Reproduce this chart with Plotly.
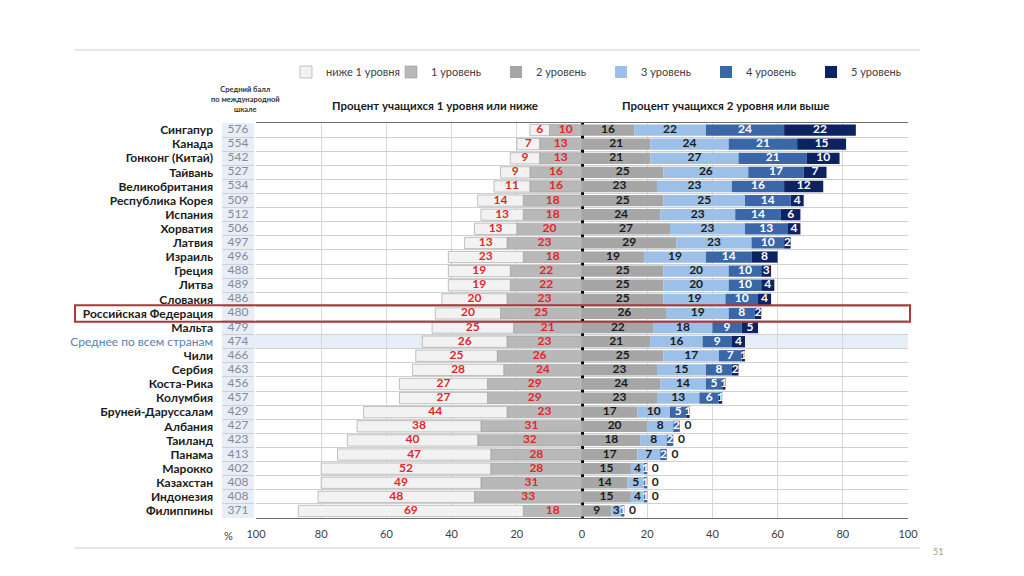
import plotly.graph_objects as go

countries = ["Сингапур", "Канада", "Гонконг (Китай)", "Тайвань", "Великобритания",
             "Республика Корея", "Испания", "Хорватия", "Латвия", "Израиль", "Греция",
             "Литва", "Словакия", "Российская Федерация", "Мальта", "Среднее по всем странам",
             "Чили", "Сербия", "Коста-Рика", "Колумбия", "Бруней-Даруссалам", "Албания",
             "Таиланд", "Панама", "Марокко", "Казахстан", "Индонезия", "Филиппины"]
scores = [576, 554, 542, 527, 534, 509, 512, 506, 497, 496, 488, 489, 486, 480, 479, 474,
          466, 463, 456, 457, 429, 427, 423, 413, 402, 408, 408, 371]
below1 = [6, 7, 9, 9, 11, 14, 13, 13, 13, 23, 19, 19, 20, 20, 25, 26, 25, 28, 27, 27, 44, 38, 40, 47, 52, 49, 48, 69]
lvl1 = [10, 13, 13, 16, 16, 18, 18, 20, 23, 18, 22, 22, 23, 25, 21, 23, 26, 24, 29, 29, 23, 31, 32, 28, 28, 31, 33, 18]
lvl2 = [16, 21, 21, 25, 23, 25, 24, 27, 29, 19, 25, 25, 25, 26, 22, 21, 25, 23, 24, 23, 17, 20, 18, 17, 15, 14, 15, 9]
lvl3 = [22, 24, 27, 26, 23, 25, 23, 23, 23, 19, 20, 20, 19, 19, 18, 16, 17, 15, 14, 13, 10, 8, 8, 7, 4, 5, 4, 3]
lvl4 = [24, 21, 21, 17, 16, 14, 14, 13, 10, 14, 10, 10, 10, 8, 9, 9, 7, 8, 5, 6, 5, 2, 2, 2, 1, 1, 1, 1]
lvl5 = [22, 15, 10, 7, 12, 4, 6, 4, 2, 8, 3, 4, 4, 2, 5, 4, 1, 2, 1, 1, 1, 0, 0, 0, 0, 0, 0, 0]

legend_names = ["ниже 1 уровня", "1 уровень", "2 уровень", "3 уровень", "4 уровень", "5 уровень"]
colors = ["#f2f2f2", "#b8b8b8", "#a6a6a6", "#9cc0e8", "#3a67a8", "#0d2261"]
x_ticks = [-100, -80, -60, -40, -20, 0, 20, 40, 60, 80, 100]

highlight = "Российская Федерация"
average = "Среднее по всем странам"

# page offset (browser body margin)
OFF = 8
W, H = 1024, 576
ML = 60 - OFF
PLOT_L, PLOT_R, PLOT_T, PLOT_B = 256 - OFF, 908 - OFF, 123 - OFF, 518 - OFF
MR = W - PLOT_R
MT = PLOT_T
MB = H - PLOT_B
PW = W - ML - MR
PH = H - MT - MB
X_DOM0 = (PLOT_L - ML) / PW


def px_x(px):
    return (px - OFF - ML) / PW


def px_y(py):
    return 1 - (py - OFF - MT) / PH


FONT = "Lato"
fig = go.Figure()

# Left side (negative): level 1 first (next to zero), then below level 1
fig.add_trace(go.Bar(y=countries, x=[-v for v in lvl1], orientation="h", name=legend_names[1],
                     legendrank=2, marker=dict(color=colors[1], line=dict(color="#9a9a9a", width=0.6)),
                     hoverinfo="skip"))
fig.add_trace(go.Bar(y=countries, x=[-v for v in below1], orientation="h", name=legend_names[0],
                     legendrank=1, marker=dict(color=colors[0], line=dict(color="#9a9a9a", width=0.6)),
                     hoverinfo="skip"))
for i, vals in enumerate([lvl2, lvl3, lvl4, lvl5]):
    fig.add_trace(go.Bar(y=countries, x=vals, orientation="h", name=legend_names[i + 2],
                         legendrank=i + 3, marker=dict(color=colors[i + 2], line=dict(width=0)),
                         hoverinfo="skip"))

# Labels - left side (red)
lab_font_red = dict(family=FONT, size=12, color="#e3262b")
fig.add_trace(go.Scatter(y=countries, x=[-v / 2 for v in lvl1], mode="text",
                         text=["<b>%d</b>" % v for v in lvl1], textfont=lab_font_red,
                         showlegend=False, hoverinfo="skip"))
fig.add_trace(go.Scatter(y=countries, x=[-(a + b / 2) for a, b in zip(lvl1, below1)], mode="text",
                         text=["<b>%d</b>" % v for v in below1], textfont=lab_font_red,
                         showlegend=False, hoverinfo="skip"))

# Labels - right side
dark = dict(family=FONT, size=12, color="#1b1b1b")
white = dict(family=FONT, size=12, color="#ffffff")
c2 = [v / 2 for v in lvl2]
c3 = [a + b / 2 for a, b in zip(lvl2, lvl3)]
c4 = [a + b + c / 2 for a, b, c in zip(lvl2, lvl3, lvl4)]
tot4 = [a + b + c for a, b, c in zip(lvl2, lvl3, lvl4)]
fig.add_trace(go.Scatter(y=countries, x=c2, mode="text", text=["<b>%d</b>" % v for v in lvl2],
                         textfont=dark, showlegend=False, hoverinfo="skip"))
fig.add_trace(go.Scatter(y=countries, x=c3, mode="text", text=["<b>%d</b>" % v for v in lvl3],
                         textfont=dark, showlegend=False, hoverinfo="skip"))
fig.add_trace(go.Scatter(y=countries, x=c4, mode="text", text=["<b>%d</b>" % v for v in lvl4],
                         textfont=white, showlegend=False, hoverinfo="skip"))
in5_y = [c for c, v in zip(countries, lvl5) if v > 0]
in5_x = [t + v / 2 for t, v in zip(tot4, lvl5) if v > 0]
in5_t = ["<b>%d</b>" % v for v in lvl5 if v > 0]
out5_y = [c for c, v in zip(countries, lvl5) if v == 0]
out5_x = [t + 2.5 for t, v in zip(tot4, lvl5) if v == 0]
out5_t = ["<b>%d</b>" % v for v in lvl5 if v == 0]
fig.add_trace(go.Scatter(y=in5_y, x=in5_x, mode="text", text=in5_t,
                         textfont=white, showlegend=False, hoverinfo="skip"))
fig.add_trace(go.Scatter(y=out5_y, x=out5_x, mode="text", text=out5_t,
                         textfont=dark, showlegend=False, hoverinfo="skip"))

# Score column on its own small axis
fig.add_trace(go.Scatter(y=countries, x=[0.5] * len(countries), mode="text",
                         text=[str(s) for s in scores], xaxis="x2",
                         textfont=dict(family=FONT, size=12, color="#858b96"),
                         showlegend=False, hoverinfo="skip"))

ticktext = []
for c in countries:
    if c == average:
        ticktext.append("<span style='color:#5a7fb0'>%s</span>" % c)
    else:
        ticktext.append("<b>%s</b>" % c)

idx_avg = countries.index(average)
idx_rus = countries.index(highlight)

shapes = [
    # score column background
    dict(type="rect", xref="paper", yref="paper", x0=px_x(222), x1=px_x(254), y0=0, y1=1,
         fillcolor="#e8eef7", line=dict(width=0), layer="below"),
    # average band
    dict(type="rect", xref="paper", yref="y", x0=px_x(222), x1=1, y0=idx_avg - 0.5, y1=idx_avg + 0.5,
         fillcolor="#e6eef8", line=dict(width=0), layer="below"),
    # highlight box Russia
    dict(type="rect", xref="paper", yref="y", x0=px_x(75), x1=px_x(910), y0=idx_rus - 0.58,
         y1=idx_rus + 0.58, fillcolor="rgba(0,0,0,0)", line=dict(color="#b0363a", width=2)),
    # slide lines
    dict(type="line", xref="paper", yref="paper", x0=px_x(75), x1=px_x(920), y0=px_y(50), y1=px_y(50),
         line=dict(color="#d0d0d0", width=1)),
    dict(type="line", xref="paper", yref="paper", x0=px_x(75), x1=px_x(920), y0=px_y(548), y1=px_y(548),
         line=dict(color="#d0d0d0", width=1)),
]


def ann(text, x, y, size, color="#1b1b1b", align="center"):
    return dict(text=text, xref="paper", yref="paper", x=px_x(x), y=px_y(y), showarrow=False,
                xanchor="center", yanchor="middle", align=align,
                font=dict(family=FONT, size=size, color=color))


annotations = [
    ann("<b>Процент учащихся 1 уровня или ниже</b>", 435, 105, 11.5),
    ann("<b>Процент учащихся 2 уровня или выше</b>", 725, 105, 11.5),
    ann("<b>Средний балл<br>по международной<br>шкале</b>", 245, 100, 7.5, "#333333"),
    ann("%", 228, 535, 11, "#404040"),
    ann("51", 938, 551, 9, "#9a9a9a"),
]

fig.update_layout(
    width=W, height=H,
    margin=dict(l=ML, r=MR, t=MT, b=MB, autoexpand=False),
    barmode="relative", bargap=0.2,
    paper_bgcolor="white", plot_bgcolor="rgba(0,0,0,0)",
    font=dict(family=FONT, size=11, color="#404040"),
    xaxis=dict(domain=[X_DOM0, 1], range=[-100, 100], tickvals=x_ticks,
               ticktext=[str(abs(v)) for v in x_ticks], showgrid=True, gridcolor="#d9d9d9",
               gridwidth=1, zeroline=True, zerolinecolor="#000000", zerolinewidth=3,
               showline=True, mirror=True, linecolor="#6e6e6e", linewidth=1, automargin=False,
               ticks="", ticklabelstandoff=6,
               tickfont=dict(family=FONT, size=11, color="#404040"), fixedrange=True),
    xaxis2=dict(domain=[px_x(222), px_x(254)], range=[0, 1], anchor="y", visible=False),
    yaxis=dict(type="category", categoryorder="array", categoryarray=countries,
               autorange=False, range=[len(countries) - 0.5, -0.5],
               tickvals=countries, ticktext=ticktext, tickson="boundaries",
               showgrid=True, gridcolor="#d0d0d0", gridwidth=1, ticks="", ticklabelstandoff=42,
               automargin=False,
               tickfont=dict(family=FONT, size=12, color="#1b1b1b"), fixedrange=True),
    # tick marks on the zero line at the row boundaries
    yaxis2=dict(overlaying="y", anchor="free", position=X_DOM0 + (1 - X_DOM0) / 2, side="left",
                range=[len(countries) - 0.5, -0.5], autorange=False,
                tickvals=[i + 0.5 for i in range(len(countries) - 1)],
                ticks="outside", ticklen=4, tickwidth=2, tickcolor="#000000",
                showticklabels=False, showgrid=False, zeroline=False, showline=False,
                automargin=False, fixedrange=True),
    legend=dict(orientation="h", x=px_x(286), y=px_y(72), xanchor="left", yanchor="middle",
                font=dict(family=FONT, size=11, color="#404040"), entrywidth=60,
                entrywidthmode="pixels", traceorder="normal", itemclick=False),
    shapes=shapes, annotations=annotations,
)

fig.write_html("out.html")
